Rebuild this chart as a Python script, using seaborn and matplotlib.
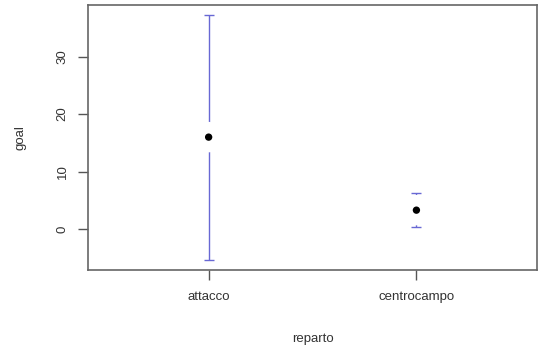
import pandas as pd
import seaborn as sns
import matplotlib.pyplot as plt

# Means and confidence intervals by department
reparto = ["attacco", "centrocampo"]
goal_mean = [16.0, 3.3]
ci_low = [-5.4, 0.35]
ci_high = [37.3, 6.3]

data = pd.DataFrame({"reparto": reparto, "goal": goal_mean})

sns.set_style("white")
plt.rcParams['font.family'] = ['Liberation Sans', 'DejaVu Sans']

fig = plt.figure(figsize=(5.44, 3.47), dpi=100)
ax = fig.add_axes([0.162, 0.222, 0.825, 0.764])

pos = list(range(len(reparto)))
lo_err = [m - l for m, l in zip(goal_mean, ci_low)]
hi_err = [h - m for m, h in zip(goal_mean, ci_high)]
ax.errorbar(pos, goal_mean, yerr=[lo_err, hi_err], fmt='none',
            ecolor='#6868d4', elinewidth=1.0, capsize=3.6, capthick=1.0, zorder=1)

# white gap around the mean points
sns.scatterplot(data=data, x="reparto", y="goal", ax=ax, s=480,
                color='white', edgecolor='none', zorder=2, legend=False)
sns.scatterplot(data=data, x="reparto", y="goal", ax=ax, s=28,
                color='black', edgecolor='none', zorder=3, legend=False)

ax.set_xlim(-0.58, 1.58)
ax.set_ylim(-7.1, 39.0)
ax.set_yticks([0, 10, 20, 30])
ax.set_yticklabels(["0", "10", "20", "30"], rotation=90, va='center')
ax.set_xlabel("reparto", fontsize=9.5, color='#333333', labelpad=22)
ax.set_ylabel("goal", fontsize=9.5, color='#333333', labelpad=22)
ax.tick_params(axis='both', direction='out', length=7, width=1, color='#555555',
               labelsize=9.5, labelcolor='#333333', left=True, bottom=True)
ax.tick_params(axis='x', pad=8)
ax.tick_params(axis='y', pad=7)
for sp in ax.spines.values():
    sp.set_color('#666666')
    sp.set_linewidth(1.2)

fig.savefig("out.png", dpi=100)
